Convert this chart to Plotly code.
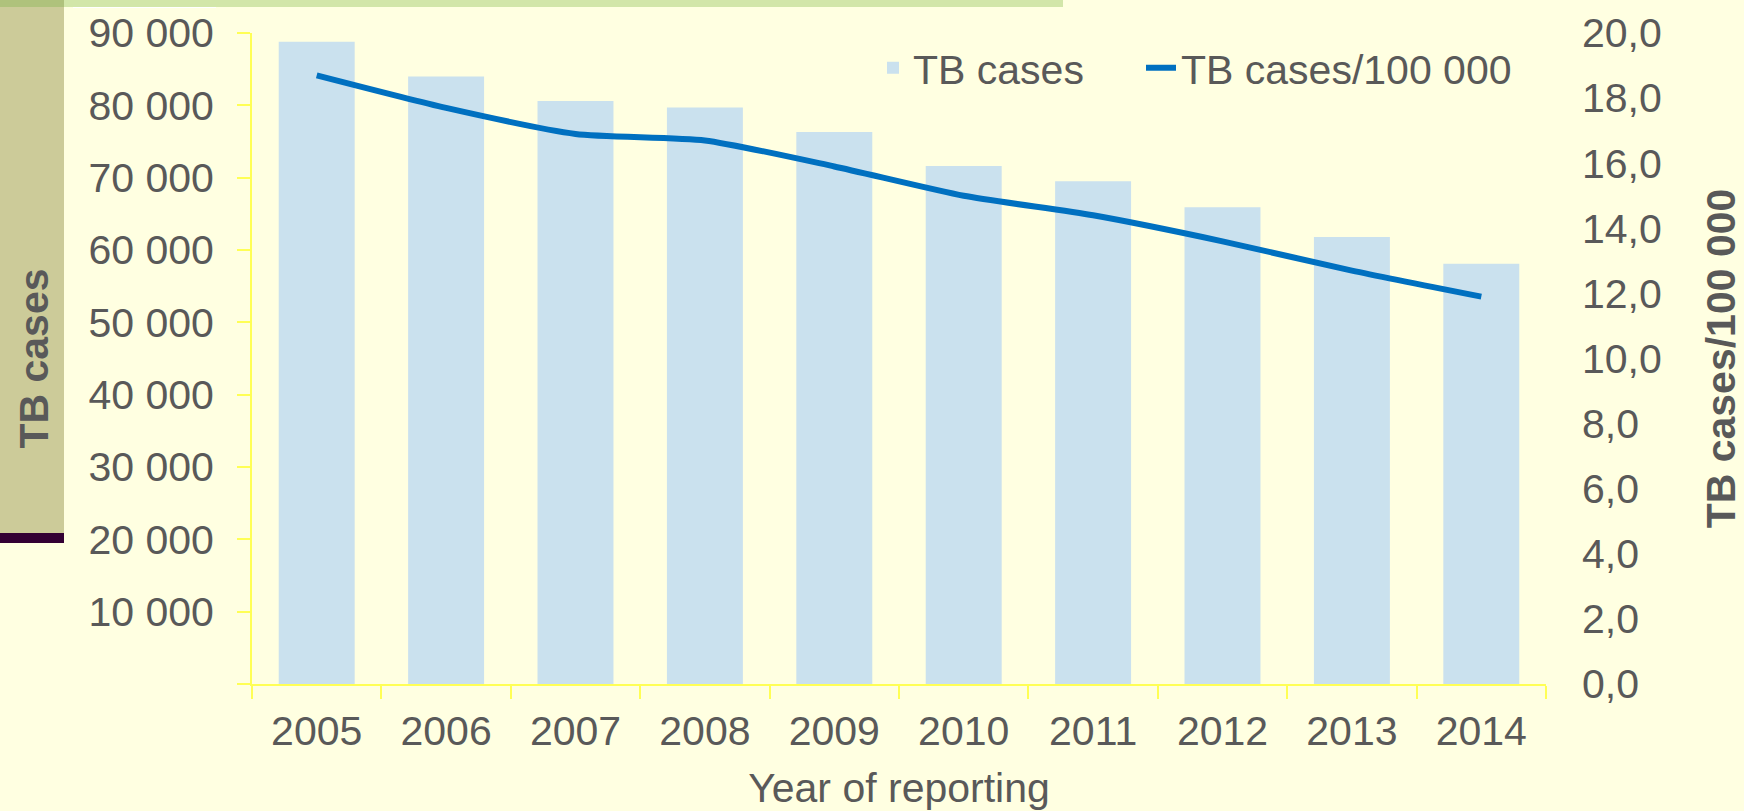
import plotly.graph_objects as go

# ---- data ----
years = ["2005", "2006", "2007", "2008", "2009", "2010", "2011", "2012", "2013", "2014"]
tb_cases = [88800, 84000, 80600, 79700, 76300, 71600, 69500, 65900, 61800, 58100]
tb_rate = [18.7, 17.7, 16.9, 16.7, 15.9, 15.0, 14.4, 13.6, 12.7, 11.9]

left_tickvals = [0, 10000, 20000, 30000, 40000, 50000, 60000, 70000, 80000, 90000]
left_ticktext = ["", "10 000", "20 000", "30 000", "40 000", "50 000", "60 000", "70 000", "80 000", "90 000"]
right_tickvals = [0, 2, 4, 6, 8, 10, 12, 14, 16, 18, 20]
right_ticktext = ["0,0", "2,0", "4,0", "6,0", "8,0", "10,0", "12,0", "14,0", "16,0", "18,0", "20,0"]

# ---- style ----
W, H = 1744, 811
ML, MR, MT, MB = 252, 198, 33, 127
PW, PH = W - ML - MR, H - MT - MB
BG = "#FFFFE1"
TXT = "#595959"
AX = "#FFFF55"
FONT = "Liberation Sans, Arial, sans-serif"
FS = 41


def px_x(p):
    return (p - ML) / PW


def px_y(p):
    return (H - MB - p) / PH


fig = go.Figure()
fig.add_trace(go.Bar(
    x=years, y=tb_cases, name="TB cases",
    marker=dict(color="#CAE1EE", line=dict(width=0)),
    yaxis="y", legend="legend",
))
fig.add_trace(go.Scatter(
    x=years, y=tb_rate, name="TB cases/100 000",
    mode="lines", line=dict(color="#0070C0", width=6, shape="spline", smoothing=0.6),
    yaxis="y2", legend="legend2",
))

# decorative background frame pieces (slide decoration)
shapes = [
    dict(type="rect", xref="paper", yref="paper", x0=px_x(0), x1=px_x(1063), y0=px_y(7), y1=px_y(0),
         fillcolor="#D2E6A9", line=dict(width=0), layer="below"),
    dict(type="rect", xref="paper", yref="paper", x0=px_x(0), x1=px_x(64), y0=px_y(533), y1=px_y(7),
         fillcolor="#CCCB99", line=dict(width=0), layer="below"),
    dict(type="rect", xref="paper", yref="paper", x0=px_x(0), x1=px_x(64), y0=px_y(7), y1=px_y(0),
         fillcolor="#AFC27C", line=dict(width=0), layer="below"),
    dict(type="rect", xref="paper", yref="paper", x0=px_x(0), x1=px_x(64), y0=px_y(543), y1=px_y(533),
         fillcolor="#330033", line=dict(width=0), layer="below"),
    dict(type="rect", xref="paper", yref="paper", x0=px_x(73), x1=px_x(216), y0=px_y(8), y1=px_y(7),
         fillcolor="#FFFFFF", line=dict(width=0), layer="below"),
]

legend_common = dict(
    orientation="h", yanchor="middle", xanchor="left",
    bgcolor="rgba(0,0,0,0)", font=dict(size=FS, color=TXT),
)

fig.update_layout(
    width=W, height=H,
    margin=dict(l=ML, r=MR, t=MT, b=MB, autoexpand=False),
    paper_bgcolor=BG, plot_bgcolor=BG,
    font=dict(family=FONT, size=FS, color=TXT),
    bargap=0.413,
    shapes=shapes,
    showlegend=True,
    legend=dict(x=px_x(873), y=px_y(68), **legend_common),
    legend2=dict(x=px_x(1141), y=px_y(68), **legend_common),
    xaxis=dict(
        type="category", showgrid=False, zeroline=False,
        showline=True, linecolor=AX, linewidth=2,
        ticks="outside", tickson="boundaries", ticklen=13, tickcolor=AX, tickwidth=2,
        ticklabelstandoff=10,
        tickfont=dict(size=FS, color=TXT),
        title=dict(text="Year of reporting", font=dict(size=FS, color=TXT), standoff=21),
    ),
    yaxis=dict(
        range=[0, 90000], showgrid=False, zeroline=False,
        showline=True, linecolor=AX, linewidth=2,
        ticks="outside", ticklen=13, tickcolor=AX, tickwidth=2,
        tickvals=left_tickvals, ticktext=left_ticktext,
        ticklabelstandoff=15,
        tickfont=dict(size=FS, color=TXT),
        title=dict(text="<b>TB cases</b>", font=dict(size=FS, color=TXT), standoff=27),
    ),
    yaxis2=dict(
        range=[0, 20], overlaying="y", side="right", showgrid=False, zeroline=False,
        showline=False, ticks="",
        tickvals=right_tickvals, ticktext=right_ticktext,
        ticklabelstandoff=35,
        tickfont=dict(size=FS, color=TXT),
        title=dict(text="<b>TB cases/100 000</b>", font=dict(size=FS, color=TXT), standoff=45),
    ),
)

fig.write_html("out.html", config={"displayModeBar": False},
               post_script="document.body.style.margin='0';")
